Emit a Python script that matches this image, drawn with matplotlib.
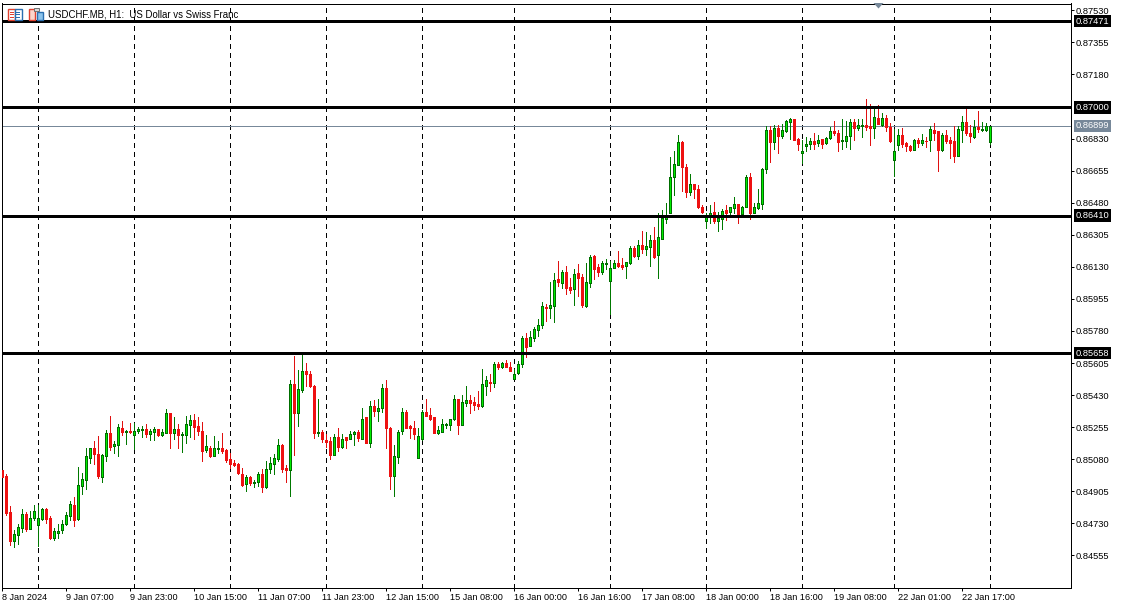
# USDCHF H1 candles, redrawn from a trading terminal screenshot
import matplotlib
matplotlib.use('Agg')
import matplotlib.pyplot as plt
from matplotlib.patches import Rectangle, Polygon
from matplotlib.transforms import IdentityTransform, blended_transform_factory
import numpy as np

# prices in points (1/100000)
opens = [85021, 84988, 84791, 84635, 84668, 84706, 84779, 84700, 84760, 84722,
         84755, 84811, 84757, 84651, 84678, 84695, 84728, 84771, 84828, 84755,
         84935, 84968, 85088, 85144, 85106, 84984, 85099, 85221, 85150, 85159,
         85248, 85230, 85234, 85214, 85235, 85239, 85243, 85219, 85230, 85243,
         85214, 85224, 85335, 85224, 85243, 85214, 85214, 85268, 85292, 85259,
         85234, 85132, 85144, 85099, 85137, 85144, 85133, 85079, 85057, 85052,
         85002, 84946, 84981, 84953, 84957, 84997, 84929, 85027, 85055, 85082,
         85160, 85031, 85022, 85493, 85333, 85459, 85559, 85544, 85482, 85224,
         85231, 85184, 85182, 85104, 85204, 85148, 85199, 85193, 85219, 85226,
         85191, 85308, 85169, 85373, 85344, 85359, 85466, 85253, 84989, 85093,
         85235, 85340, 85259, 85253, 85086, 85191, 85340, 85324, 85308, 85224,
         85230, 85268, 85268, 85297, 85406, 85268, 85388, 85401, 85391, 85379,
         85371, 85482, 85504, 85497, 85597, 85584, 85604, 85586, 85519, 85552,
         85601, 85740, 85700, 85743, 85783, 85811, 85911, 85907, 85918, 86062,
         86044, 86100, 86018, 86007, 86095, 86073, 85918, 86040, 86187, 86127,
         86104, 86144, 86055, 86126, 86149, 86138, 86133, 86153, 86231, 86191,
         86247, 86229, 86240, 86275, 86193, 86284, 86393, 86421, 86618, 86687,
         86809, 86673, 86538, 86580, 86552, 86454, 86381, 86403, 86431, 86381,
         86392, 86440, 86429, 86452, 86472, 86416, 86458, 86618, 86425, 86452,
         86474, 86665, 86876, 86813, 86887, 86845, 86873, 86922, 86936, 86825,
         86753, 86791, 86800, 86816, 86807, 86829, 86804, 86835, 86869, 86858,
         86817, 86818, 86846, 86918, 86889, 86900, 86904, 86897, 86889, 86942,
         86906, 86940, 86895, 86715, 86793, 86847, 86804, 86791, 86769, 86820,
         86807, 86818, 86822, 86875, 86869, 86769, 86847, 86820, 86817, 86736,
         86877, 86918, 86858, 86840, 86893, 86877, 86878, 86813]
closes = [84984, 84788, 84635, 84671, 84708, 84779, 84700, 84762, 84800, 84762,
          84806, 84755, 84651, 84686, 84691, 84729, 84773, 84833, 84749, 84937,
          84970, 85095, 85139, 85110, 84990, 85101, 85221, 85148, 85161, 85254,
          85230, 85234, 85228, 85232, 85243, 85243, 85219, 85234, 85243, 85214,
          85228, 85335, 85224, 85243, 85214, 85219, 85270, 85292, 85257, 85235,
          85126, 85150, 85097, 85139, 85144, 85126, 85075, 85055, 85048, 85006,
          84939, 84981, 84951, 84955, 84997, 84929, 85029, 85057, 85084, 85155,
          85027, 85020, 85493, 85333, 85461, 85559, 85546, 85481, 85224, 85231,
          85191, 85175, 85104, 85204, 85148, 85193, 85186, 85220, 85226, 85195,
          85302, 85169, 85373, 85344, 85357, 85466, 85251, 84989, 85095, 85231,
          85340, 85253, 85251, 85217, 85209, 85340, 85317, 85299, 85224, 85237,
          85270, 85271, 85297, 85411, 85268, 85390, 85401, 85388, 85377, 85371,
          85488, 85510, 85497, 85597, 85584, 85604, 85586, 85563, 85543, 85601,
          85740, 85694, 85745, 85789, 85814, 85914, 85907, 85920, 86056, 86049,
          86100, 86016, 86005, 86089, 86071, 85922, 86045, 86182, 86120, 86104,
          86149, 86149, 86122, 86149, 86136, 86131, 86155, 86231, 86191, 86247,
          86229, 86242, 86275, 86184, 86291, 86395, 86400, 86618, 86689, 86809,
          86676, 86540, 86580, 86552, 86456, 86429, 86403, 86425, 86381, 86396,
          86436, 86423, 86454, 86472, 86416, 86458, 86618, 86421, 86454, 86476,
          86662, 86876, 86813, 86887, 86845, 86875, 86926, 86936, 86822, 86802,
          86760, 86800, 86816, 86800, 86822, 86800, 86835, 86869, 86862, 86813,
          86820, 86842, 86918, 86889, 86904, 86904, 86893, 86889, 86946, 86911,
          86940, 86895, 86817, 86760, 86847, 86798, 86791, 86769, 86820, 86807,
          86820, 86817, 86880, 86862, 86769, 86847, 86817, 86807, 86736, 86880,
          86918, 86862, 86846, 86895, 86884, 86880, 86897, 86897]
highs = [85021, 85002, 84824, 84693, 84729, 84806, 84793, 84797, 84830, 84828,
         84815, 84813, 84769, 84702, 84729, 84751, 84791, 84850, 84873, 85035,
         85003, 85139, 85139, 85179, 85206, 85108, 85239, 85315, 85179, 85272,
         85286, 85239, 85277, 85275, 85255, 85264, 85272, 85243, 85254, 85246,
         85243, 85355, 85335, 85310, 85270, 85230, 85314, 85321, 85326, 85310,
         85283, 85212, 85150, 85206, 85181, 85223, 85135, 85112, 85075, 85057,
         85031, 84993, 84988, 84966, 85008, 85024, 85069, 85091, 85106, 85193,
         85162, 85046, 85510, 85643, 85566, 85650, 85603, 85559, 85484, 85406,
         85242, 85220, 85199, 85220, 85250, 85220, 85199, 85233, 85233, 85239,
         85357, 85308, 85397, 85402, 85411, 85488, 85510, 85257, 85155, 85239,
         85362, 85351, 85266, 85286, 85250, 85351, 85406, 85357, 85308, 85260,
         85299, 85279, 85297, 85428, 85406, 85433, 85477, 85430, 85422, 85452,
         85572, 85533, 85543, 85608, 85610, 85608, 85621, 85608, 85570, 85617,
         85752, 85767, 85780, 85803, 85843, 85938, 85925, 86047, 86095, 86162,
         86113, 86135, 86069, 86116, 86144, 86091, 86149, 86193, 86193, 86146,
         86162, 86171, 86162, 86166, 86217, 86178, 86155, 86242, 86244, 86275,
         86324, 86320, 86302, 86346, 86422, 86440, 86477, 86729, 86764, 86849,
         86818, 86691, 86634, 86582, 86574, 86467, 86421, 86467, 86483, 86429,
         86443, 86467, 86458, 86509, 86474, 86461, 86631, 86642, 86481, 86552,
         86671, 86898, 86898, 86902, 86902, 86909, 86931, 86940, 86936, 86831,
         86822, 86836, 86831, 86860, 86849, 86829, 86837, 86891, 86924, 86875,
         86937, 86924, 86937, 86937, 86937, 86937, 87046, 87019, 86995, 87013,
         86968, 86959, 86915, 86880, 86880, 86886, 86811, 86795, 86826, 86835,
         86855, 86840, 86898, 86915, 86869, 86858, 86877, 86840, 86898, 86898,
         86951, 86991, 86902, 86931, 86979, 86918, 86917, 86897]
lows = [84984, 84777, 84613, 84602, 84620, 84682, 84689, 84700, 84751, 84607,
        84748, 84733, 84646, 84638, 84651, 84678, 84722, 84748, 84715, 84751,
        84890, 84919, 85061, 85053, 84977, 84957, 85072, 85130, 85113, 85099,
        85212, 85163, 85221, 85137, 85221, 85201, 85203, 85186, 85184, 85206,
        85206, 85224, 85141, 85190, 85141, 85119, 85170, 85203, 85192, 85214,
        85072, 85121, 85090, 85099, 85115, 85115, 85064, 85033, 85042, 84999,
        84933, 84908, 84940, 84930, 84933, 84900, 84924, 85006, 84998, 85071,
        85011, 84955, 84880, 85102, 85260, 85448, 85482, 85475, 85195, 85206,
        85175, 85148, 85080, 85102, 85124, 85140, 85140, 85189, 85157, 85179,
        85191, 85169, 85148, 85315, 85288, 85337, 85140, 84916, 84880, 85057,
        85217, 85250, 85195, 85193, 85086, 85184, 85315, 85293, 85222, 85217,
        85228, 85248, 85242, 85293, 85217, 85268, 85373, 85333, 85348, 85355,
        85366, 85430, 85452, 85475, 85573, 85579, 85584, 85561, 85517, 85546,
        85585, 85640, 85700, 85725, 85754, 85796, 85836, 85849, 85831, 86025,
        86016, 85982, 85989, 85922, 85971, 85911, 85913, 86022, 86064, 86080,
        86091, 86118, 85873, 86124, 86129, 86120, 86069, 86146, 86186, 86173,
        86206, 86195, 86135, 86178, 86069, 86282, 86369, 86421, 86521, 86685,
        86545, 86511, 86523, 86505, 86450, 86421, 86341, 86367, 86367, 86325,
        86338, 86385, 86416, 86421, 86370, 86414, 86454, 86392, 86423, 86447,
        86445, 86640, 86702, 86771, 86753, 86833, 86865, 86829, 86822, 86767,
        86694, 86764, 86773, 86774, 86789, 86778, 86800, 86827, 86851, 86762,
        86773, 86786, 86773, 86822, 86877, 86838, 86877, 86795, 86831, 86909,
        86898, 86873, 86811, 86625, 86767, 86786, 86764, 86762, 86767, 86786,
        86793, 86786, 86760, 86822, 86653, 86760, 86804, 86722, 86702, 86733,
        86811, 86849, 86811, 86835, 86866, 86871, 86869, 86800]

price_ticks = [0.87530, 0.87355, 0.87180, 0.86830, 0.86655, 0.86480, 0.86305, 0.86130, 0.85955,
               0.85780, 0.85605, 0.85430, 0.85255, 0.85080, 0.84905, 0.84730, 0.84555]
level_lines = [0.87471, 0.87000, 0.86410, 0.85658]
last_price = 0.86899

time_labels = ['8 Jan 2024', '9 Jan 07:00', '9 Jan 23:00', '10 Jan 15:00', '11 Jan 07:00',
               '11 Jan 23:00', '12 Jan 15:00', '15 Jan 08:00', '16 Jan 00:00', '16 Jan 16:00',
               '17 Jan 08:00', '18 Jan 00:00', '18 Jan 16:00', '19 Jan 08:00', '22 Jan 01:00',
               '22 Jan 17:00']
time_ticks = list(range(0, 256, 16))
# the terminal's period separators, bar numbers
separators = [9, 33, 57, 81, 105, 128, 152, 176, 200, 223, 247]

W, H = 1124, 607
plt.rcParams['font.family'] = ['Liberation Sans', 'DejaVu Sans']
fig = plt.figure(figsize=(W / 100, H / 100), dpi=100)
ax = fig.add_axes([1.5 / W, 1 - 587.5 / H, 1069 / W, 584 / H])
ax.set_xlim(0, 267.25)
ax.set_ylim(0.84380, 0.87567)

o = np.array(opens) / 1e5
c = np.array(closes) / 1e5
hi = np.array(highs) / 1e5
lo = np.array(lows) / 1e5
x = np.arange(len(o))
up = c >= o

ax.vlines(separators, 0, 1, transform=ax.get_xaxis_transform(), color='black',
          lw=1.0, linestyles=(0, (2.9, 2.9)), zorder=1, antialiased=False)
ax.axhline(last_price, color='#778899', lw=0.72, zorder=2)

ax.vlines(x[up], lo[up], hi[up], color='#007800', lw=0.72, zorder=3, antialiased=False)
ax.vlines(x[~up], lo[~up], hi[~up], color='#e01010', lw=0.72, zorder=3, antialiased=False)
ax.bar(x[up], (c - o)[up], bottom=o[up], width=0.5, color='#00ee00', edgecolor='#006e00',
       lw=0.72, zorder=4, antialiased=False)
ax.bar(x[~up], (c - o)[~up], bottom=o[~up], width=0.5, color='#ee1111', edgecolor='#ee1111',
       lw=0.72, zorder=4, antialiased=False)

for p in level_lines:
    ax.axhline(p, color='black', lw=2.16, zorder=5)

ax.yaxis.tick_right()
ax.set_yticks(price_ticks)
ax.set_yticklabels(['%.5f' % p for p in price_ticks])
ax.tick_params(axis='y', length=2.5, width=0.72, pad=1.5, labelsize=6.7)
ax.set_xticks(time_ticks)
ax.set_xticklabels(time_labels, ha='left')
ax.tick_params(axis='x', length=2.5, width=0.72, pad=1.5, labelsize=6.6)
for side in ax.spines.values():
    side.set_linewidth(0.72)

# price tags on the right scale
tag_trans = blended_transform_factory(IdentityTransform(), ax.transData)
for p in level_lines + [last_price]:
    ax.text(1075.5, p, '%.5f' % p, transform=tag_trans, color='white', fontsize=6.7,
            va='center', ha='left', zorder=6, clip_on=False,
            bbox=dict(fc='#778899' if p == last_price else 'black', ec='none', pad=1.2))

# small shift marker at the top
ax.add_patch(Polygon([(873.5, H - 3), (883.5, H - 3), (878.5, H - 8.5)], closed=True,
                     transform=IdentityTransform(), fc='#778899', ec='none',
                     zorder=6, clip_on=False))

# symbol caption and its two toolbar icons
fig.text(48 / W, 1 - 14.5 / H, 'USDCHF.MB, H1:  US Dollar vs Swiss Franc', fontsize=6.95,
         va='center', color='black')

def px_rect(x0, y0, w, h, **kw):
    fig.patches.append(Rectangle((x0 / W, 1 - (y0 + h) / H), w / W, h / H,
                                 transform=fig.transFigure, zorder=7, **kw))

px_rect(7.5, 9.5, 7, 10, fc='white', ec='#e0412f', lw=1.0)
px_rect(14.5, 9.5, 7, 10, fc='white', ec='#2a6fb0', lw=1.0)
for yy in (12, 14, 16.5):
    px_rect(9.5, yy, 4.5, 1, fc='#e0412f', ec='none')
    px_rect(15.5, yy, 4.5, 1, fc='#2a6fb0', ec='none')
px_rect(28.5, 9.5, 6.5, 10, fc='#fbd5cc', ec='#e0412f', lw=1.0)
px_rect(36.5, 11.5, 6.5, 8, fc='#8cc4ec', ec='#2a6fb0', lw=1.0)
px_rect(33.5, 8.5, 5, 2.5, fc='#d8d8d8', ec='#707070', lw=0.7)

fig.savefig('out.png', dpi=100, facecolor='white')
